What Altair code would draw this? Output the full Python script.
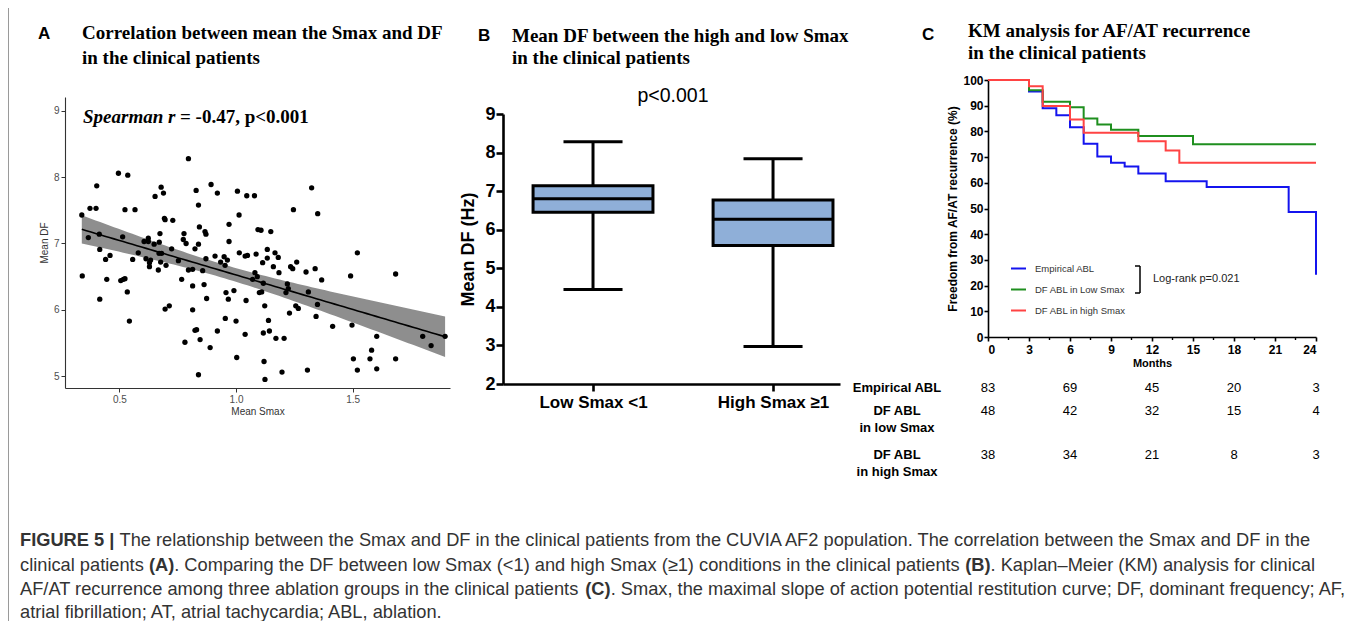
import altair as alt
import numpy as np
import pandas as pd

W, H = 1339, 613
SANS = "Liberation Sans"
SERIF = "Liberation Serif"

# ---------------- Panel A: scatter (Mean Smax vs Mean DF) ----------------
smax = [0.339, 0.367, 0.374, 0.400, 0.403, 0.414, 0.416, 0.341, 0.416, 0.441,
        0.460, 0.446, 0.496, 0.536, 0.524, 0.567, 0.514, 0.506, 0.517, 0.524,
        0.534, 0.543, 0.557, 0.581, 0.606, 0.624, 0.624, 0.614, 0.629, 0.634,
        0.629, 0.649, 0.653, 0.679, 0.689, 0.696, 0.693, 0.729, 0.674, 0.671,
        0.681, 0.670, 0.677, 0.667, 0.700, 0.696, 0.714, 0.724, 0.753, 0.767,
        0.774, 0.777, 0.786, 0.796, 0.796, 0.781, 0.814, 0.814, 0.814, 0.824,
        0.829, 0.824, 0.831, 0.839, 0.839, 0.843, 0.846, 0.839, 0.857, 0.863,
        0.867, 0.871, 0.871, 0.874, 0.889, 0.893, 0.910, 0.920, 0.920, 0.934,
        0.949, 0.953, 0.957, 0.954, 0.963, 0.970, 0.970, 0.967, 0.991, 1.000,
        1.003, 1.006, 1.013, 1.014, 1.039, 1.046, 1.043, 1.039, 1.049, 1.079,
        1.071, 1.081, 1.086, 1.091, 1.094, 1.107, 1.100, 1.110, 1.114, 1.117,
        1.117, 1.120, 1.124, 1.123, 1.134, 1.139, 1.143, 1.134, 1.149, 1.160,
        1.167, 1.171, 1.181, 1.184, 1.197, 1.206, 1.214, 1.220, 1.224, 1.229,
        1.234, 1.243, 1.246, 1.260, 1.256, 1.267, 1.300, 1.310, 1.306, 1.324,
        1.339, 1.343, 1.350, 1.349, 1.367, 1.414, 1.491, 1.497, 1.503, 1.520,
        1.520, 1.574, 1.581, 1.603, 1.603, 1.684, 1.684, 1.800, 1.836, 1.896]
mean_df = [7.43, 7.09, 7.53, 7.53, 7.87, 7.14, 6.91, 6.51, 6.16, 6.76,
           6.82, 6.46, 8.06, 8.03, 7.51, 7.51, 7.10, 6.44, 6.46, 6.47,
           6.27, 5.83, 6.76, 6.86, 7.03, 7.08, 7.03, 6.77, 6.71, 6.75,
           6.65, 6.99, 7.71, 7.85, 7.76, 7.36, 7.38, 7.35, 7.15, 7.02,
           6.85, 6.85, 6.72, 6.60, 6.67, 6.01, 6.06, 6.92, 6.74, 6.46,
           7.06, 7.15, 7.00, 6.60, 8.28, 5.51, 6.61, 6.36, 6.00, 6.92,
           7.80, 5.69, 5.70, 7.58, 6.99, 7.25, 5.55, 5.02, 6.59, 6.38,
           7.18, 7.14, 6.77, 6.17, 5.43, 7.89, 6.81, 7.76, 5.68, 6.72,
           6.80, 6.67, 6.26, 5.87, 6.75, 7.03, 7.29, 6.16, 6.29, 5.83,
           5.28, 7.79, 7.43, 6.86, 6.81, 7.72, 6.14, 5.63, 6.82, 7.72,
           6.46, 6.56, 6.84, 6.50, 7.21, 7.20, 6.26, 6.27, 6.71, 6.40,
           5.65, 5.22, 4.95, 6.06, 6.91, 5.84, 5.68, 6.78, 7.18, 6.65,
           6.86, 5.57, 6.79, 6.56, 5.06, 5.57, 6.26, 6.39, 6.32, 5.95,
           6.65, 6.62, 7.51, 6.72, 6.06, 6.02, 6.57, 6.27, 5.09, 7.84,
           6.62, 5.90, 7.45, 6.08, 6.45, 5.75, 6.51, 5.77, 5.26, 6.86,
           5.09, 5.26, 5.39, 5.60, 5.11, 6.54, 5.26, 5.60, 5.46, 5.60]

# ---------------- Panel B: box plot summaries ----------------
box_groups = ["Low Smax <1", "High Smax \u22651"]
box_lo = [4.45, 2.97]
box_q1 = [6.45, 5.59]
box_med = [6.80, 6.27]
box_q3 = [7.14, 6.77]
box_hi = [8.28, 7.84]

# ---------------- Panel C: Kaplan-Meier curves ----------------
km_groups = ["Empirical ABL", "DF ABL in Low Smax", "DF ABL in high Smax"]
km_colors = ["#1414ee", "#1f8f1f", "#ff4343"]
emp_t = [0, 3, 4, 5, 6, 7, 8, 9, 10, 11, 13, 16, 22, 24]
emp_s = [100, 95.5, 89.0, 86.3, 81.6, 75.2, 70.2, 67.8, 66.3, 63.6, 60.6, 58.4, 48.6, 24.2]
low_t = [0, 3, 4, 6, 7, 8, 9, 11, 15, 24]
low_s = [100, 96.0, 91.5, 89.4, 85.0, 82.7, 80.6, 78.2, 75.0, 75.0]
high_t = [0, 3, 4, 6, 7, 11, 13, 14, 24]
high_s = [100, 97.6, 89.9, 84.6, 79.5, 76.2, 72.6, 67.8, 67.8]
month_ticks = [0, 3, 6, 9, 12, 15, 18, 21, 24]
minor_months = [1.5, 4.5, 7.5, 10.5, 13.5, 16.5, 19.5, 22.5]

# number at risk table
risk_months = [0, 6, 12, 18, 24]
risk_emp = [83, 69, 45, 20, 3]
risk_low = [48, 42, 32, 15, 4]
risk_high = [38, 34, 21, 8, 3]

# ======================= helpers =======================
def tlayer(items, **kw):
    d = pd.DataFrame(items, columns=["x", "y", "t"])
    return alt.Chart(d).mark_text(**kw).encode(
        x=alt.X("x:Q", scale=None, axis=None),
        y=alt.Y("y:Q", scale=None, axis=None),
        text="t:N",
    )

# ======================= Panel A =======================
pts = pd.DataFrame({"smax": smax, "df": mean_df})
xa = np.array(smax)
ya = np.array(mean_df)
n = len(xa)
b1, b0 = np.polyfit(xa, ya, 1)
xs = np.linspace(xa.min(), xa.max(), 80)
fit = b0 + b1 * xs
res = ya - (b0 + b1 * xa)
s_err = np.sqrt((res ** 2).sum() / (n - 2))
sxx = ((xa - xa.mean()) ** 2).sum()
se = s_err * np.sqrt(1.0 / n + (xs - xa.mean()) ** 2 / sxx)
fitdf = pd.DataFrame({"x": xs, "fit": fit, "lo": fit - 1.975 * se, "hi": fit + 1.975 * se})

xA = alt.Scale(domain=[0.267, 1.917], range=[57, 442], nice=False, zero=False)
yA = alt.Scale(domain=[4.82, 9.21], range=[380, 89], nice=False, zero=False)
axA_common = dict(grid=False, domainColor="#333333", domainWidth=1.1, tickColor="#333333",
                  tickSize=4, labelFont=SANS, labelFontSize=10, labelColor="#4d4d4d",
                  titleFont=SANS, titleFontSize=10, titleFontWeight="normal", titleColor="#333333")
axA_x = alt.Axis(orient="bottom", offset=-233, values=[0.5, 1.0, 1.5], format=".1f",
                 title="Mean Smax", labelPadding=2, titlePadding=2, **axA_common)
axA_y = alt.Axis(orient="left", offset=-57, values=[5, 6, 7, 8, 9], format="d",
                 title="Mean DF", labelPadding=2, titlePadding=4, **axA_common)

bandA = alt.Chart(fitdf).mark_area(color="#8e8e8e", opacity=1).encode(
    x=alt.X("x:Q", scale=xA, axis=axA_x),
    y=alt.Y("lo:Q", scale=yA, axis=axA_y),
    y2="hi:Q",
)
ptsA = alt.Chart(pts).mark_circle(size=28, color="black", opacity=1).encode(
    x=alt.X("smax:Q", scale=xA, axis=axA_x),
    y=alt.Y("df:Q", scale=yA, axis=axA_y),
)
lineA = alt.Chart(fitdf).mark_line(color="black", strokeWidth=1.6).encode(
    x=alt.X("x:Q", scale=xA, axis=axA_x),
    y=alt.Y("fit:Q", scale=yA, axis=axA_y),
)
panelA = alt.layer(bandA, ptsA, lineA)

# ======================= Panel B =======================
boxdf = pd.DataFrame({"g": box_groups, "lo": box_lo, "q1": box_q1, "med": box_med,
                      "q3": box_q3, "hi": box_hi})
boxdf["pos"] = np.arange(1, len(box_groups) + 1)

xB = alt.Scale(domain=[0.5, 2.372], range=[495, 832], nice=False, zero=False)
yB = alt.Scale(domain=[2, 9], range=[376, 106], nice=False, zero=False)
axB_common = dict(grid=False, domainColor="black", domainWidth=2.6, tickColor="black",
                  tickWidth=2.6, tickSize=7, labelFont=SANS, labelFontWeight="bold",
                  labelColor="black", titleFont=SANS, titleFontWeight="bold", titleColor="black")
axB_x = alt.Axis(orient="bottom", offset=-237, values=[1, 2], title=None, labelFontSize=17,
                 labelPadding=3,
                 labelExpr="datum.value == 1 ? 'Low Smax <1' : 'High Smax \u22651'", **axB_common)
axB_y = alt.Axis(orient="left", offset=-495, values=[2, 3, 4, 5, 6, 7, 8, 9], format="d",
                 title="Mean DF (Hz)", labelFontSize=18, titleFontSize=18, labelPadding=1,
                 titlePadding=7, **axB_common)

baseB = alt.Chart(boxdf).transform_calculate(
    bl="datum.pos - 0.333", br="datum.pos + 0.333",
    cl="datum.pos - 0.164", cr="datum.pos + 0.164",
)
whisk = baseB.mark_rule(color="black", strokeWidth=3).encode(
    x=alt.X("pos:Q", scale=xB, axis=axB_x),
    y=alt.Y("lo:Q", scale=yB, axis=axB_y),
    y2="hi:Q",
)
cap_lo = baseB.mark_rule(color="black", strokeWidth=3).encode(
    x=alt.X("cl:Q", scale=xB, axis=axB_x), x2="cr:Q",
    y=alt.Y("lo:Q", scale=yB, axis=axB_y),
)
cap_hi = baseB.mark_rule(color="black", strokeWidth=3).encode(
    x=alt.X("cl:Q", scale=xB, axis=axB_x), x2="cr:Q",
    y=alt.Y("hi:Q", scale=yB, axis=axB_y),
)
boxes = baseB.mark_rect(fill="#8fafd8", stroke="black", strokeWidth=3).encode(
    x=alt.X("bl:Q", scale=xB, axis=axB_x), x2="br:Q",
    y=alt.Y("q1:Q", scale=yB, axis=axB_y), y2="q3:Q",
)
medians = baseB.mark_rule(color="black", strokeWidth=3).encode(
    x=alt.X("bl:Q", scale=xB, axis=axB_x), x2="br:Q",
    y=alt.Y("med:Q", scale=yB, axis=axB_y),
)
panelB = alt.layer(whisk, cap_lo, cap_hi, boxes, medians)

# ======================= Panel C =======================
km = pd.concat([
    pd.DataFrame({"g": km_groups[0], "t": emp_t, "s": emp_s}),
    pd.DataFrame({"g": km_groups[1], "t": low_t, "s": low_s}),
    pd.DataFrame({"g": km_groups[2], "t": high_t, "s": high_s}),
], ignore_index=True)

C_XDOM, C_XRANGE = [0, 24], [980, 1308]
def xC():
    return alt.Scale(domain=C_XDOM, range=C_XRANGE, nice=False, zero=False)
yC = alt.Scale(domain=[0, 100], range=[329, 72], nice=False, zero=False)
axC_common = dict(grid=False, domainColor="black", domainWidth=1.6, tickColor="black",
                  tickWidth=1.6, tickSize=4, labelFont=SANS, labelFontWeight="bold",
                  labelColor="black", labelFontSize=12, titleFont=SANS,
                  titleFontWeight="bold", titleColor="black")
axC_x = alt.Axis(orient="bottom", offset=-284, values=month_ticks, format="d", title="Months",
                 titleFontSize=11, labelPadding=3, titlePadding=2, **axC_common)
axC_y = alt.Axis(orient="left", offset=-980, values=list(range(0, 101, 10)), format="d",
                 title="Freedom from AF/AT recurrence (%)",
                 titleFontSize=12, labelPadding=1, titlePadding=3, **axC_common)

panelC = alt.Chart(km).mark_line(interpolate="step-after", strokeWidth=2).encode(
    x=alt.X("t:Q", scale=xC(), axis=axC_x),
    y=alt.Y("s:Q", scale=yC, axis=axC_y),
    color=alt.Color("g:N", sort=km_groups,
                    scale=alt.Scale(domain=km_groups, range=km_colors),
                    legend=alt.Legend(orient="none", legendX=1002, legendY=252, title=None,
                                      symbolType="stroke", symbolSize=225, symbolStrokeWidth=2,
                                      labelFont=SANS, labelFontSize=9.5, labelColor="#333333",
                                      rowPadding=8, labelOffset=8, padding=0)),
)
minorC = alt.Chart(pd.DataFrame({"m": minor_months})).mark_rule(color="black", strokeWidth=1.4).encode(
    x=alt.X("m:Q", scale=xC(), axis=None),
    y=alt.value(329), y2=alt.value(332),
)

def risk_layer(vals, ypix):
    d = pd.DataFrame({"m": risk_months, "n": vals})
    return alt.Chart(d).mark_text(font=SANS, fontSize=13, color="black", baseline="middle").encode(
        x=alt.X("m:Q", scale=xC(), axis=None), y=alt.value(ypix), text="n:Q")

# bracket + log-rank text
one = pd.DataFrame({"a": [0]})
bracket = alt.layer(
    alt.Chart(one).mark_rule(color="black", strokeWidth=1.5).encode(
        x=alt.value(1132), y=alt.value(258), y2=alt.value(285)),
    alt.Chart(one).mark_rule(color="black", strokeWidth=1.5).encode(
        x=alt.value(1127), x2=alt.value(1132), y=alt.value(258)),
    alt.Chart(one).mark_rule(color="black", strokeWidth=1.5).encode(
        x=alt.value(1127), x2=alt.value(1132), y=alt.value(285)),
)

# ======================= Texts =======================
letters = tlayer([(30, 26, "A"), (470, 28, "B"), (914, 27, "C")],
                 font=SANS, fontSize=17, fontWeight="bold", align="left", baseline="middle", color="black")
titles = tlayer([
    (74, 25, "Correlation between mean the Smax and DF"),
    (74, 50, "in the clinical patients"),
    (504, 28, "Mean DF between the high and low Smax"),
    (504, 50, "in the clinical patients"),
    (960, 23, "KM analysis for AF/AT recurrence"),
    (960, 45, "in the clinical patients"),
], font=SERIF, fontSize=19, fontWeight="bold", align="left", baseline="middle", color="black")
spear1 = tlayer([(75, 109, "Spearman r")], font=SERIF, fontSize=19, fontWeight="bold",
                fontStyle="italic", align="left", baseline="middle", color="black")
spear2 = tlayer([(172, 109, "= -0.47, p<0.001")], font=SERIF, fontSize=19, fontWeight="bold",
                align="left", baseline="middle", color="black")
pval = tlayer([(665, 88, "p<0.001")], font=SANS, fontSize=19.5, align="center",
              baseline="middle", color="black")
logrank = tlayer([(1145, 271, "Log-rank p=0.021")], font=SANS, fontSize=11, align="left",
                 baseline="middle", color="#222222")
risk_labels = tlayer([
    (889, 380, "Empirical ABL"),
    (889, 403, "DF ABL"), (889, 420, "in low Smax"),
    (889, 447, "DF ABL"), (889, 464, "in high Smax"),
], font=SANS, fontSize=13, fontWeight="bold", align="center", baseline="middle", color="black")

# ---------------- caption (Helvetica/Arial metrics for inline bold runs) ----------------
HELV = {' ': 278, '!': 278, '(': 333, ')': 333, ',': 278, '-': 333, '.': 278, '/': 278,
        ':': 278, ';': 278, '<': 584, '>': 584, '|': 260, '\u2013': 556, '\u2265': 549,
        'A': 667, 'B': 667, 'C': 722, 'D': 722, 'E': 667, 'F': 611, 'G': 778, 'H': 722,
        'I': 278, 'J': 500, 'K': 667, 'L': 556, 'M': 833, 'N': 722, 'O': 778, 'P': 667,
        'Q': 778, 'R': 722, 'S': 667, 'T': 611, 'U': 722, 'V': 667, 'W': 944, 'X': 667,
        'Y': 667, 'Z': 611, 'a': 556, 'b': 556, 'c': 500, 'd': 556, 'e': 556, 'f': 278,
        'g': 556, 'h': 556, 'i': 222, 'j': 222, 'k': 500, 'l': 222, 'm': 833, 'n': 556,
        'o': 556, 'p': 556, 'q': 556, 'r': 333, 's': 500, 't': 278, 'u': 556, 'v': 500,
        'w': 722, 'x': 500, 'y': 500, 'z': 500}
HELVB = {' ': 278, '(': 333, ')': 333, '|': 280, 'A': 722, 'B': 722, 'C': 722, 'E': 667,
         'F': 611, 'G': 778, 'I': 278, 'R': 722, 'U': 722}

def tw(s, bold):
    tab = HELVB if bold else HELV
    return sum(tab.get(ch, 556) for ch in s) / 1000.0

caption = [
    [("FIGURE 5 | ", True),
     ("The relationship between the Smax and DF in the clinical patients from the CUVIA AF2 population. "
      "The correlation between the Smax and DF in the", False)],
    [("clinical patients ", False), ("(A)", True),
     (". Comparing the DF between low Smax (<1) and high Smax (\u22651) conditions in the clinical patients ", False),
     ("(B)", True), (". Kaplan\u2013Meier (KM) analysis for clinical", False)],
    [("AF/AT recurrence among three ablation groups in the clinical patients ", False), ("(C)", True),
     (". Smax, the maximal slope of action potential restitution curve; DF, dominant frequency; AF,", False)],
    [("atrial fibrillation; AT, atrial tachycardia; ABL, ablation.", False)],
]
cap_y = [533, 558, 582, 605]
CAP_W1 = 1293.0  # measured pixel width of the first caption line
cap_fs = CAP_W1 / sum(tw(s, b) for s, b in caption[0])
reg_rows, bold_rows = [], []
for li, segs in enumerate(caption):
    x = 12.0
    for s, b in segs:
        (bold_rows if b else reg_rows).append((x, cap_y[li], s.rstrip()))
        x += tw(s, b) * cap_fs
cap_reg = tlayer(reg_rows, font=SANS, fontSize=cap_fs, align="left", baseline="middle", color="#333333")
cap_bold = tlayer(bold_rows, font=SANS, fontSize=cap_fs, fontWeight="bold", align="left",
                  baseline="middle", color="#333333")

border = alt.Chart(one).mark_rule(color="#9a9a9a", strokeWidth=1).encode(
    x=alt.value(0.5), y=alt.value(0), y2=alt.value(H))

chart = alt.layer(
    panelA, panelB, panelC, minorC,
    risk_layer(risk_emp, 380), risk_layer(risk_low, 403), risk_layer(risk_high, 447),
    bracket, border, letters, titles, spear1, spear2, pval, logrank,
    risk_labels, cap_reg, cap_bold,
).resolve_scale(x="independent", y="independent").properties(
    width=W, height=H, padding=0, background="white",
    autosize=alt.AutoSizeParams(type="none"),
).configure_view(stroke=None)

chart.save("out.html", embed_options={"renderer": "svg", "actions": False})
